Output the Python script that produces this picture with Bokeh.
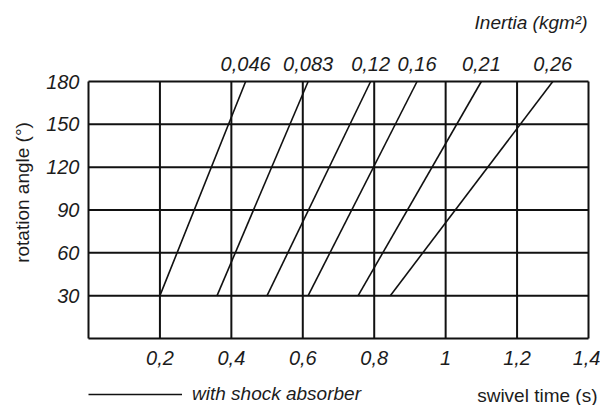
import math
from bokeh.plotting import figure
from bokeh.models import (FixedTicker, Label, Legend, LegendItem, Range1d,
                          ColumnDataSource, LinearAxis)
from bokeh.embed import file_html
from bokeh.resources import INLINE

# ---- data ----
inertia_labels = ["0,046", "0,083", "0,12", "0,16", "0,21", "0,26"]
time_at_30 = [0.20, 0.36, 0.50, 0.615, 0.755, 0.845]   # swivel time (s) at 30°
time_at_180 = [0.44, 0.615, 0.79, 0.92, 1.10, 1.30]   # swivel time (s) at 180°
angle_low = [30, 30, 30, 30, 30, 30]
angle_high = [180, 180, 180, 180, 180, 180]

x_ticks = [0.2, 0.4, 0.6, 0.8, 1.0, 1.2, 1.4]
x_tick_labels = ["0,2", "0,4", "0,6", "0,8", "1", "1,2", "1,4"]
y_ticks = [30, 60, 90, 120, 150, 180]
y_tick_labels = ["30", "60", "90", "120", "150", "180"]
x_min, x_max = 0.0, 1.4
y_min, y_max = 0, 180

# ---- layout (pixels) ----
W, H = 600, 405
FRAME_L, FRAME_R, FRAME_T, FRAME_B = 88, 588, 81, 338
FONT = "Liberation Sans"
FS = "19px"
FS_TICK = "20px"
TXT = "#1c1c1c"

sx = (FRAME_R - FRAME_L) / (x_max - x_min)
sy = (FRAME_B - FRAME_T) / (y_max - y_min)
xr = Range1d(x_min - FRAME_L / sx, x_max + (W - FRAME_R) / sx)
yr = Range1d(y_min - (H - FRAME_B) / sy, y_max + FRAME_T / sy)

p = figure(width=W, height=H, x_range=xr, y_range=yr,
           output_backend="svg", toolbar_location=None,
           x_axis_location=None, y_axis_location=None,
           min_border=0)
p.grid.visible = False
p.outline_line_color = None
p.background_fill_color = "white"
p.border_fill_color = "white"

# ---- box and grid lines drawn at the tick values ----
vx = [x_min] + x_ticks
hy = [y_min] + y_ticks
grid_src = ColumnDataSource(dict(
    x0=vx + [x_min] * len(hy),
    y0=[y_min] * len(vx) + hy,
    x1=vx + [x_max] * len(hy),
    y1=[y_max] * len(vx) + hy,
))
p.segment(x0="x0", y0="y0", x1="x1", y1="y1", source=grid_src,
          line_color="#111111", line_width=2)

# ---- inertia lines ----
src = ColumnDataSource(dict(x0=time_at_30, y0=angle_low, x1=time_at_180, y1=angle_high))
seg = p.segment(x0="x0", y0="y0", x1="x1", y1="y1", source=src,
                line_color="#111111", line_width=1.6)

# ---- axes ----
def style_axis(ax):
    ax.axis_line_color = None
    ax.major_tick_line_color = None
    ax.minor_tick_line_color = None
    ax.major_label_text_font = FONT
    ax.major_label_text_font_style = "italic"
    ax.major_label_text_font_size = FS_TICK
    ax.major_label_text_color = TXT

xaxis = LinearAxis(fixed_location=y_min, ticker=FixedTicker(ticks=x_ticks),
                   major_label_overrides=dict(zip(x_ticks, x_tick_labels)))
style_axis(xaxis)
xaxis.major_label_standoff = 6
p.add_layout(xaxis, "below")

yaxis = LinearAxis(fixed_location=x_min, ticker=FixedTicker(ticks=y_ticks),
                   major_label_overrides=dict(zip(y_ticks, y_tick_labels)))
style_axis(yaxis)
yaxis.major_label_standoff = 3
p.add_layout(yaxis, "left")

topaxis = LinearAxis(fixed_location=y_max, ticker=FixedTicker(ticks=time_at_180),
                     major_label_overrides=dict(zip(time_at_180, inertia_labels)))
style_axis(topaxis)
topaxis.major_label_standoff = 5
p.add_layout(topaxis, "above")

# ---- titles ----
p.add_layout(Label(x=x_max, y=y_max, text="Inertia (kgm²)", x_offset=-1, y_offset=59,
                   text_align="right", text_baseline="middle",
                   text_font=FONT, text_font_style="italic",
                   text_font_size=FS, text_color=TXT))

p.add_layout(Label(x=x_max, y=y_min, text="swivel time (s)", x_offset=9, y_offset=-57,
                   text_align="right", text_baseline="middle",
                   text_font=FONT, text_font_style="normal",
                   text_font_size=FS, text_color=TXT))

p.add_layout(Label(x=x_min, y=y_max, text="rotation angle (°)", x_offset=-66, y_offset=-111,
                   angle=math.pi / 2, text_align="center", text_baseline="middle",
                   text_font=FONT, text_font_style="normal",
                   text_font_size=FS, text_color=TXT))

# ---- legend ----
legend = Legend(items=[LegendItem(label="with shock absorber", renderers=[seg])],
                location=(FRAME_L, 0), orientation="horizontal",
                glyph_width=94, glyph_height=20, label_height=20, label_standoff=10,
                padding=0, margin=0, spacing=0,
                border_line_color=None, background_fill_alpha=0,
                label_text_font=FONT, label_text_font_style="italic",
                label_text_font_size=FS, label_text_color=TXT)
p.add_layout(legend)

open("out.html", "w").write(file_html(p, INLINE))
